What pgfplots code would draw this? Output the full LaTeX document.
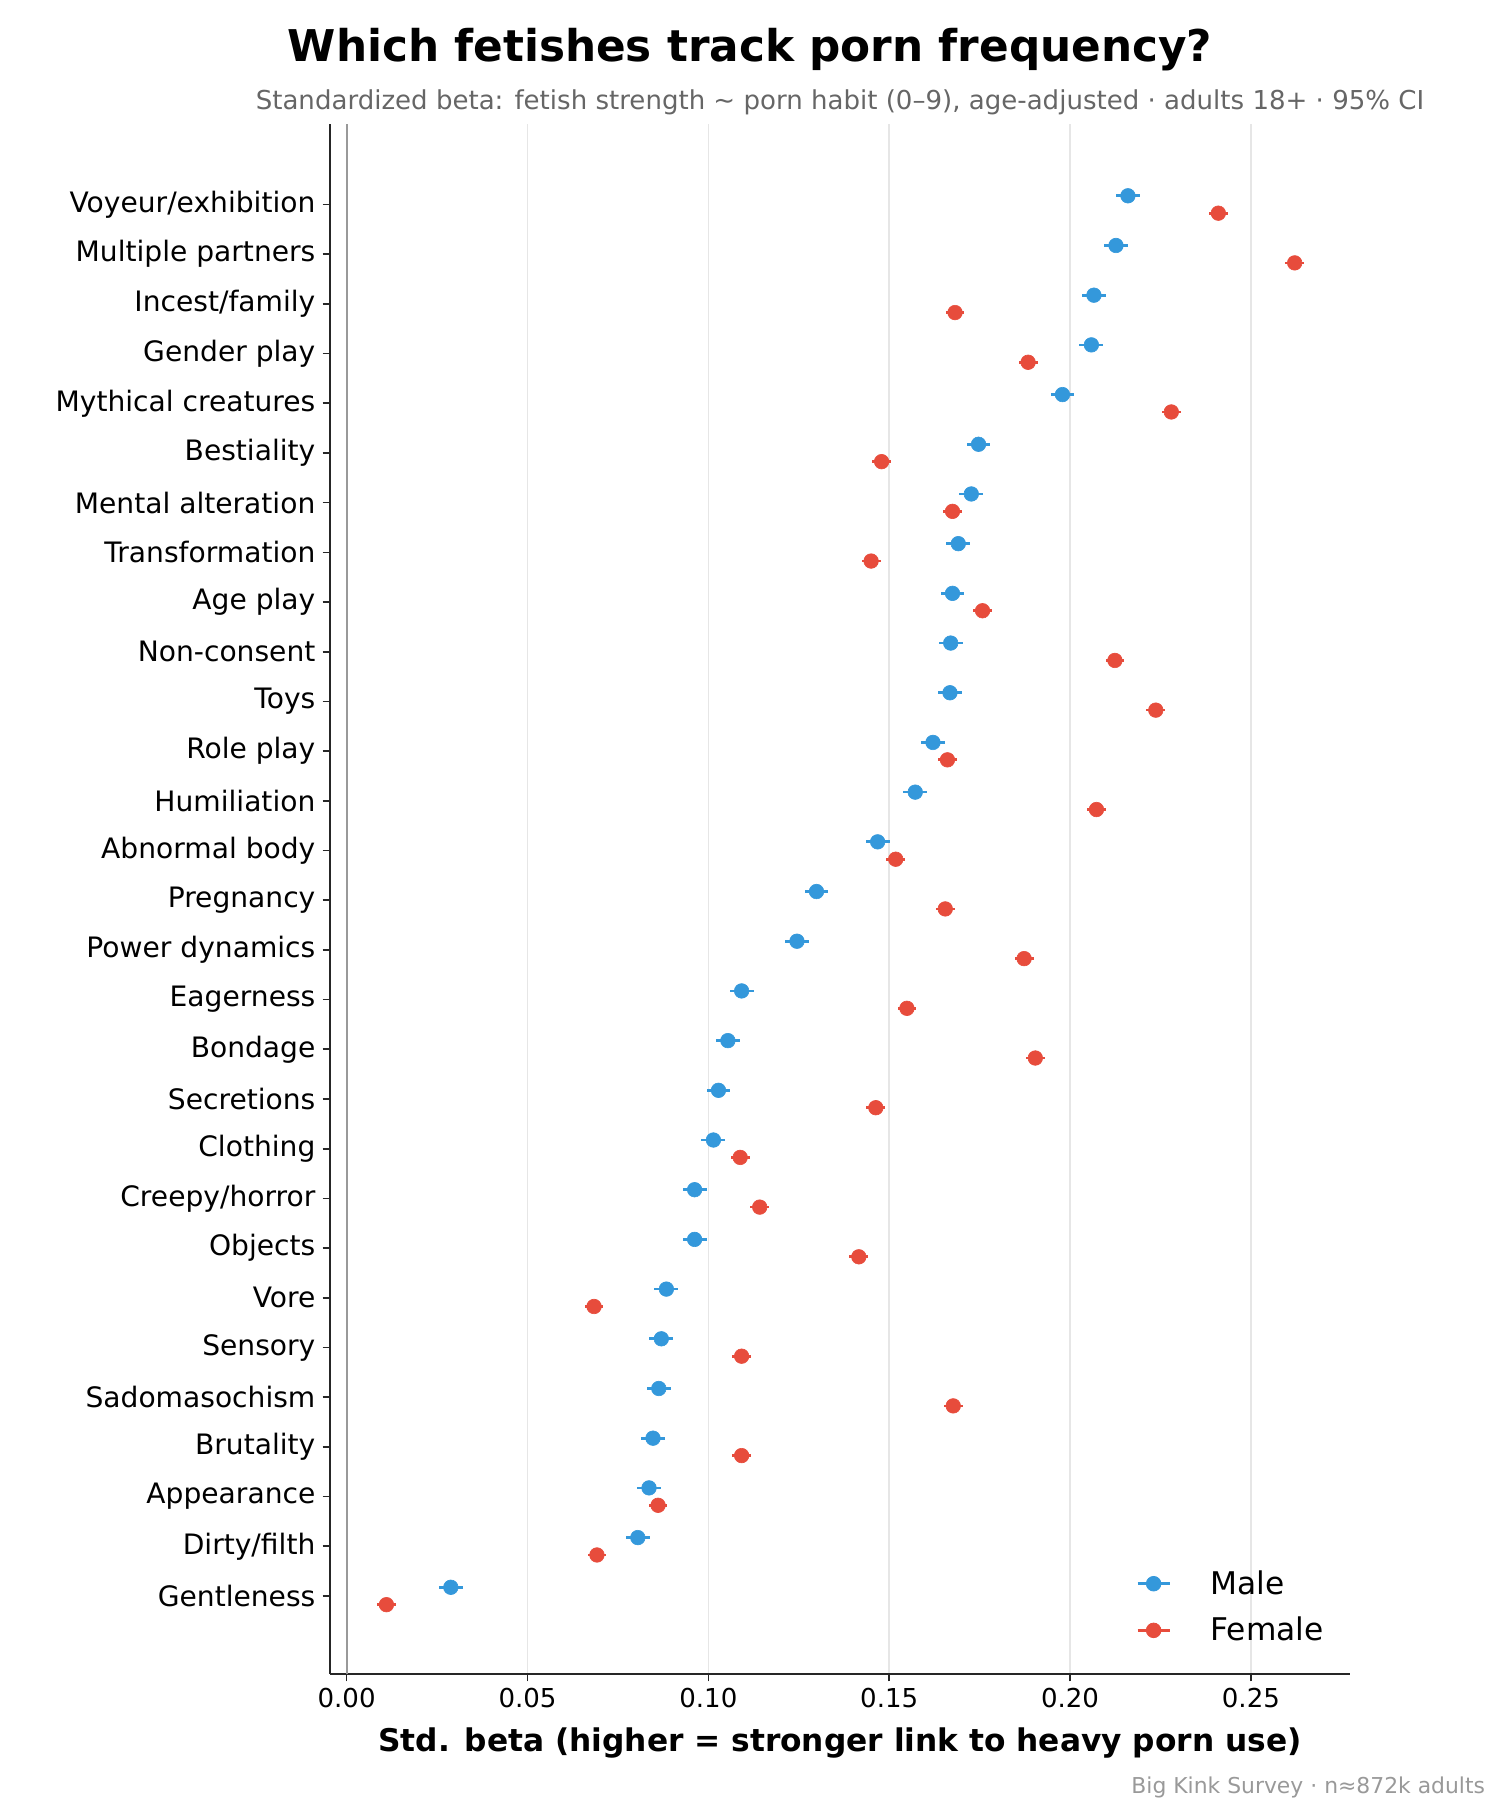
\documentclass[border=0pt]{standalone}
\usepackage{pgfplots}
\usepackage{pgfplotstable}
\pgfplotsset{compat=1.18}
\usepackage{fontspec}
\setmainfont{DejaVu Sans}

\definecolor{maleblue}{HTML}{3498DB}
\definecolor{femalered}{HTML}{E74C3C}
\definecolor{subgray}{HTML}{666666}
\definecolor{notegray}{HTML}{999999}
\definecolor{gridgray}{HTML}{E6E6E6}
\definecolor{zerogray}{HTML}{999999}

% idx: row position (0 = bottom); male/female: standardized beta; *err: half-width of 95% CI
\pgfplotstableread{
idx male   merr   female ferr
28  0.2160 0.0033 0.2410 0.0026
27  0.2127 0.0033 0.2621 0.0026
26  0.2066 0.0033 0.1682 0.0026
25  0.2059 0.0033 0.1884 0.0026
24  0.1979 0.0033 0.2280 0.0026
23  0.1747 0.0033 0.1479 0.0026
22  0.1727 0.0033 0.1675 0.0026
21  0.1691 0.0033 0.1450 0.0026
20  0.1675 0.0033 0.1758 0.0026
19  0.1670 0.0033 0.2124 0.0026
18  0.1668 0.0033 0.2237 0.0026
17  0.1621 0.0033 0.1661 0.0026
16  0.1572 0.0033 0.2073 0.0026
15  0.1468 0.0033 0.1518 0.0026
14  0.1299 0.0033 0.1655 0.0026
13  0.1245 0.0033 0.1873 0.0026
12  0.1092 0.0033 0.1549 0.0026
11  0.1054 0.0033 0.1904 0.0026
10  0.1028 0.0033 0.1463 0.0026
9   0.1014 0.0033 0.1088 0.0026
8   0.0962 0.0033 0.1142 0.0026
7   0.0962 0.0033 0.1416 0.0026
6   0.0884 0.0033 0.0684 0.0026
5   0.0870 0.0033 0.1092 0.0026
4   0.0863 0.0033 0.1677 0.0026
3   0.0847 0.0033 0.1092 0.0026
2   0.0836 0.0033 0.0861 0.0026
1   0.0805 0.0033 0.0692 0.0026
0   0.0288 0.0033 0.0110 0.0026
}\betas

\begin{document}
\begin{tikzpicture}
\useasboundingbox (0,0) rectangle (720pt,864pt);

\node[font=\bfseries\fontsize{21}{25}\selectfont] at (360pt,840.2pt) {Which fetishes track porn frequency?};
\node[font=\fontsize{12.5}{15}\selectfont, text=subgray] at (403.2pt,815pt)
  {Standardized beta: fetish strength \textasciitilde{} porn habit (0–9), age-adjusted · adults 18+ · 95\% CI};
\node[font=\fontsize{10.5}{12}\selectfont, text=notegray, anchor=east, inner sep=0pt] at (713pt,6.2pt)
  {Big Kink Survey · n≈872k adults};

\begin{axis}[
  at={(158.4pt,60.48pt)}, anchor=south west,
  scale only axis, width=489.6pt, height=744pt,
  xmin=-0.0046, xmax=0.2774,
  ymin=-1.57, ymax=29.62,
  axis x line*=bottom, axis y line*=left,
  axis line style={-, line width=0.8pt, black!85},
  xtick={0,0.05,0.10,0.15,0.20,0.25},
  xticklabels={0.00,0.05,0.10,0.15,0.20,0.25},
  ytick={0,...,28},
  yticklabels={Gentleness,Dirty/filth,Appearance,Brutality,Sadomasochism,Sensory,Vore,Objects,Creepy/horror,Clothing,Secretions,Bondage,Eagerness,Power dynamics,Pregnancy,Abnormal body,Humiliation,Role play,Toys,Non-consent,Age play,Transformation,Mental alteration,Bestiality,Mythical creatures,Gender play,Incest/family,Multiple partners,Voyeur/exhibition},
  tick align=outside, major tick length=3.5pt,
  tick style={line width=0.8pt, black!85},
  xticklabel style={font=\fontsize{12.5}{14}\selectfont},
  yticklabel style={font=\fontsize{13.5}{15}\selectfont},
  /pgf/number format/assume math mode=true,
  xmajorgrids, grid style={gridgray, line width=0.8pt},
  xlabel={\bfseries Std. beta (higher = stronger link to heavy porn use)},
  xlabel style={font=\fontsize{15}{17}\selectfont, at={(axis description cs:0.5,-0.0445)}, anchor=center},
  legend style={draw=none, fill=none, at={(axis description cs:0.79,0.0432)}, anchor=west,
    font=\fontsize{15}{17}\selectfont, row sep=9.5pt, inner sep=0pt,
    nodes={inner sep=0pt},
    /tikz/every odd column/.append style={column sep=19pt}},
  legend cell align=left,
]
% reference line at zero
\addplot[zerogray, line width=1pt, forget plot] coordinates {(0,-1.57) (0,29.62)};

\addplot[only marks, mark=*, mark size=3.5pt, color=maleblue, mark options={line width=0.3pt},
  legend image code/.code={\draw[maleblue, line width=1.3pt] (0pt,0pt) -- (15.4pt,0pt);
    \fill[maleblue] (7.7pt,0pt) circle (3.5pt);},
  error bars/.cd, x dir=both, x explicit, error mark=none,
  error bar style={line width=1.3pt, maleblue}]
  table[x=male, y expr=\thisrow{idx}+0.175, x error=merr] {\betas};
\addlegendentry{Male}

\addplot[only marks, mark=*, mark size=3.5pt, color=femalered, mark options={line width=0.3pt},
  legend image code/.code={\draw[femalered, line width=1.3pt] (0pt,0pt) -- (15.4pt,0pt);
    \fill[femalered] (7.7pt,0pt) circle (3.5pt);},
  error bars/.cd, x dir=both, x explicit, error mark=none,
  error bar style={line width=1.3pt, femalered}]
  table[x=female, y expr=\thisrow{idx}-0.175, x error=ferr] {\betas};
\addlegendentry{Female}
\end{axis}
\end{tikzpicture}
\end{document}
